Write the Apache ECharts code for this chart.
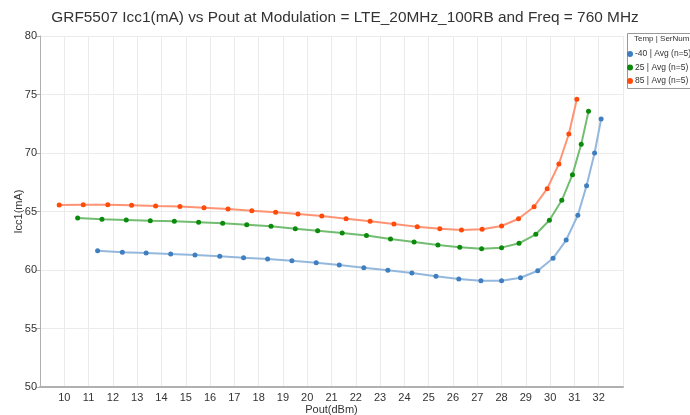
<!DOCTYPE html>
<html>
<head>
<meta charset="utf-8">
<script src="https://cdn.jsdelivr.net/npm/echarts@6/dist/echarts.min.js"></script>
<style>html,body{margin:0;padding:0;background:#fff}#c{width:690px;height:415px}</style>
</head>
<body>
<div id="c"></div>
<script>
const seriesNames = ['-40 | Avg (n=5)', '25 | Avg (n=5)', '85 | Avg (n=5)'];
const pout_m40 = [11.37,12.39,13.37,14.38,15.38,16.40,17.38,18.37,19.37,20.37,21.32,22.33,23.32,24.31,25.30,26.24,27.15,28.00,28.78,29.49,30.12,30.66,31.14,31.50,31.83,32.10];
const icc_m40  = [61.65,61.51,61.45,61.37,61.28,61.17,61.05,60.94,60.79,60.62,60.43,60.20,59.97,59.74,59.46,59.23,59.09,59.09,59.34,59.94,61.00,62.56,64.68,67.21,70.00,72.91];
const pout_25 = [10.55,11.55,12.55,13.54,14.53,15.53,16.52,17.51,18.51,19.51,20.43,21.44,22.44,23.43,24.40,25.38,26.28,27.18,28.00,28.72,29.41,29.97,30.48,30.92,31.28,31.58];
const icc_25  = [64.44,64.33,64.27,64.21,64.16,64.08,63.99,63.87,63.73,63.53,63.36,63.17,62.94,62.65,62.39,62.14,61.95,61.82,61.91,62.28,63.05,64.25,65.96,68.15,70.74,73.56];
const pout_85 = [9.79,10.78,11.79,12.77,13.76,14.76,15.75,16.74,17.72,18.70,19.62,20.60,21.60,22.59,23.57,24.53,25.46,26.35,27.20,28.00,28.70,29.34,29.88,30.36,30.77,31.10];
const icc_85  = [65.56,65.58,65.58,65.53,65.47,65.42,65.33,65.21,65.07,64.93,64.79,64.62,64.38,64.16,63.93,63.70,63.53,63.42,63.48,63.76,64.38,65.41,66.95,69.06,71.62,74.59];
const dotColors = ['#3f7fc0', '#0b8a0b', '#ff4a0a'];
const lineColors = ['#94b8dd', '#72bd72', '#ff9474'];

const zip = (xs, ys) => xs.map((x, i) => [x, ys[i]]);
const allData = [zip(pout_m40, icc_m40), zip(pout_25, icc_25), zip(pout_85, icc_85)];

const chart = echarts.init(document.getElementById('c'), null, {renderer: 'canvas'});
const font = 'Liberation Sans, Arial, sans-serif';
chart.setOption({
  animation: false,
  textStyle: {fontFamily: font},
  title: {
    text: 'GRF5507 Icc1(mA) vs Pout at Modulation = LTE_20MHz_100RB and Freq = 760 MHz',
    left: 'center', top: 5,
    textStyle: {fontSize: 15.4, fontWeight: 'normal', color: '#333', fontFamily: font}
  },
  grid: {left: 40, right: 67, top: 36, bottom: 28, containLabel: false, outerBoundsMode: 'none'},
  xAxis: {
    type: 'value', min: 9, max: 33, interval: 1,
    name: 'Pout(dBm)', nameLocation: 'middle', nameGap: 17, nameMoveOverlap: false,
    nameTextStyle: {fontSize: 11, color: '#333'},
    axisLine: {lineStyle: {color: '#b0b0b0', width: 2}},
    axisTick: {show: false},
    axisLabel: {fontSize: 11, color: '#333', margin: 5, showMinLabel: false, showMaxLabel: false,
      formatter: v => (v <= 9 || v >= 33) ? '' : String(v)},
    splitLine: {show: true, lineStyle: {color: '#ebebeb', width: 1}}
  },
  yAxis: {
    type: 'value', min: 50, max: 80, interval: 5,
    name: 'Icc1(mA)', nameLocation: 'middle', nameGap: 16, nameMoveOverlap: false,
    nameTextStyle: {fontSize: 11, color: '#333'},
    axisLine: {show: true, lineStyle: {color: '#b0b0b0', width: 1}},
    axisTick: {show: true, length: 4, lineStyle: {color: '#b0b0b0'}},
    axisLabel: {fontSize: 11, color: '#333', margin: 3},
    splitLine: {show: true, lineStyle: {color: '#ebebeb', width: 1}}
  },
  legend: {
    orient: 'vertical', left: 627, top: 49.5, itemGap: 4.5, padding: 0,
    itemWidth: 6, itemHeight: 6, icon: 'circle',
    textStyle: {fontSize: 8.5, color: '#333', padding: [0, 0, 0, -3]},
    data: seriesNames
  },
  graphic: [
    {type: 'rect', shape: {x: 627.5, y: 33.5, width: 80, height: 55}, style: {fill: 'none', stroke: '#999', lineWidth: 1}, silent: true},
    {type: 'text', left: 634, top: 35, style: {text: 'Temp | SerNum', fontSize: 8, fill: '#333', fontFamily: font}}
  ],
  series: seriesNames.map((n, i) => ({
    name: n, type: 'line', data: allData[i],
    symbol: 'circle', symbolSize: 5,
    itemStyle: {color: dotColors[i]},
    lineStyle: {color: lineColors[i], width: 2},
    smooth: false
  }))
});
</script>
</body>
</html>
